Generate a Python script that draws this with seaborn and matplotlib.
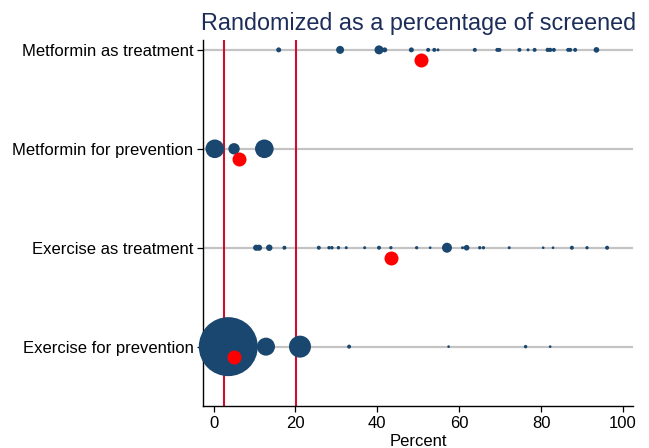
import matplotlib
matplotlib.use("Agg")
import matplotlib.pyplot as plt
import seaborn as sns
import pandas as pd
import numpy as np

# ---------------- data ----------------
categories = ["Metformin as treatment", "Metformin for prevention",
              "Exercise as treatment", "Exercise for prevention"]

met_treat_pct = [15.9, 30.9, 40.4, 41.8, 48.3, 52.4, 53.9, 54.8, 63.8, 69.3,
                 69.8, 74.7, 76.8, 78.4, 81.6, 82.2, 83.1, 86.6, 87.1, 88.3, 93.5]
met_treat_w = [25, 64, 81, 25, 25, 16, 16, 9, 16, 16,
               16, 16, 9, 16, 18, 18, 16, 16, 16, 16, 32]

met_prev_pct = [0.3, 5.0, 12.4]
met_prev_w = [346, 130, 346]

ex_treat_pct = [10.4, 11.1, 13.6, 17.3, 25.7, 28.2, 28.9, 30.5, 32.4, 36.9,
                40.4, 43.3, 49.6, 52.9, 57.0, 60.8, 61.8, 65.0, 65.9, 72.2,
                80.5, 82.9, 87.5, 91.2, 96.1]
ex_treat_w = [38, 38, 42, 16, 16, 12, 12, 12, 9, 9,
              16, 11, 11, 7, 100, 9, 32, 11, 11, 9,
              7, 7, 16, 11, 16]

ex_prev_pct = [3.6, 12.8, 21.1, 33.1, 57.4, 76.2, 82.2]
ex_prev_w = [3481, 324, 484, 16, 7, 12, 7]

means = [50.6, 6.3, 43.3, 4.9]
thresholds = [2.6, 20.1]

# ---------------- build table ----------------
groups = [(met_treat_pct, met_treat_w), (met_prev_pct, met_prev_w),
          (ex_treat_pct, ex_treat_w), (ex_prev_pct, ex_prev_w)]
nrows = len(categories)
ypos = {c: nrows - i for i, c in enumerate(categories)}  # top row highest

rows = []
for cat, (pct, w) in zip(categories, groups):
    for p, ww in zip(pct, w):
        rows.append({"category": cat, "pct": p, "w": ww, "y": ypos[cat]})
df = pd.DataFrame(rows)
df_mean = pd.DataFrame({"category": categories, "pct": means,
                        "y": [ypos[c] - 0.1 for c in categories]})

# ---------------- plot ----------------
sns.set_theme(style="ticks")
plt.rcParams["font.family"] = ["Liberation Sans", "DejaVu Sans"]

fig = plt.figure(figsize=(6.49, 4.48), dpi=100)
ax = fig.add_axes([0.3133, 0.09375, 0.6625, 0.8170])

navy = "#1a476f"
for c in categories:
    ax.axhline(ypos[c], color="#c4c4c4", lw=1.6, zorder=1)
for t in thresholds:
    ax.axvline(t, color="#c8102e", lw=1.5, zorder=2)

k = 0.5184  # px^2 -> pt^2
wmin, wmax = df["w"].min(), df["w"].max()
sns.scatterplot(data=df, x="pct", y="y", size="w",
                sizes=(k * wmin, k * wmax), size_norm=(wmin, wmax),
                color=navy, linewidth=0, legend=False, ax=ax, zorder=3,
                clip_on=False)
sns.scatterplot(data=df_mean, x="pct", y="y", s=k * 14 ** 2,
                color="#ff0000", linewidth=0, legend=False, ax=ax, zorder=4,
                clip_on=False)

ax.set_xlim(-2.5, 102.5)
ax.set_ylim(0.4, 4.1)
ax.set_xticks([0, 20, 40, 60, 80, 100])
ax.set_yticks([ypos[c] for c in categories])
ax.set_yticklabels(categories)
ax.set_xlabel("Percent", fontsize=12, labelpad=2, color="black")
ax.set_ylabel("")
ax.tick_params(axis="both", labelsize=12, length=4, width=0.9,
               color="black", labelcolor="black", pad=3)
for s in ["top", "right"]:
    ax.spines[s].set_visible(False)
for s in ["left", "bottom"]:
    ax.spines[s].set_color("black")
    ax.spines[s].set_linewidth(1.0)

ax.set_title("Randomized as a percentage of screened", fontsize=16.8,
             color="#1c2d59", pad=7.5)

fig.savefig("out.png", dpi=100)
